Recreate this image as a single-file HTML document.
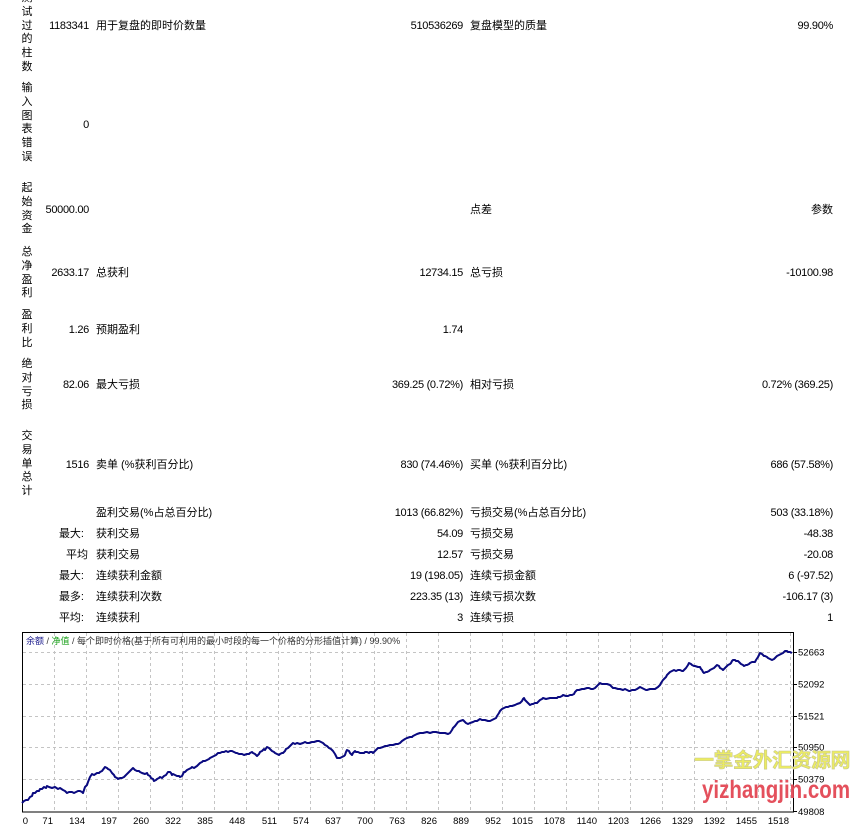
<!DOCTYPE html>
<html><head><meta charset="utf-8">
<style>
html,body{margin:0;padding:0;background:#fff;}
body{width:866px;height:834px;position:relative;overflow:hidden;font-family:"Liberation Sans","Noto Sans CJK SC",sans-serif;font-size:11px;color:#000;}
.t{position:absolute;line-height:14px;white-space:nowrap;}
.v{position:absolute;left:20px;width:14px;text-align:center;font-size:11px;line-height:13.8px;}
.a{left:0;width:89px;text-align:right;}
.b{left:96px;}
.c{left:300px;width:163px;text-align:right;}
.d{left:470px;}
.e{left:600px;width:233px;text-align:right;}
.n{letter-spacing:-0.3px;}
</style></head><body>

<div class="v" style="top:-8px">测<br>试<br>过<br>的<br>柱<br>数</div>
<div class="v" style="top:82px">输<br>入<br>图<br>表<br>错<br>误</div>
<div class="v" style="top:182px">起<br>始<br>资<br>金</div>
<div class="v" style="top:246px">总<br>净<br>盈<br>利</div>
<div class="v" style="top:309px">盈<br>利<br>比</div>
<div class="v" style="top:358px">绝<br>对<br>亏<br>损</div>
<div class="v" style="top:430px">交<br>易<br>单<br>总<br>计</div>

<div class="t a n" style="top:19px">1183341</div>
<div class="t b" style="top:19px">用于复盘的即时价数量</div>
<div class="t c n" style="top:19px">510536269</div>
<div class="t d" style="top:19px">复盘模型的质量</div>
<div class="t e n" style="top:19px">99.90%</div>

<div class="t a n" style="top:118px">0</div>

<div class="t a n" style="top:203px">50000.00</div>
<div class="t d" style="top:203px">点差</div>
<div class="t e" style="top:203px">参数</div>

<div class="t a n" style="top:266px">2633.17</div>
<div class="t b" style="top:266px">总获利</div>
<div class="t c n" style="top:266px">12734.15</div>
<div class="t d" style="top:266px">总亏损</div>
<div class="t e n" style="top:266px">-10100.98</div>

<div class="t a n" style="top:323px">1.26</div>
<div class="t b" style="top:323px">预期盈利</div>
<div class="t c n" style="top:323px">1.74</div>

<div class="t a n" style="top:378px">82.06</div>
<div class="t b" style="top:378px">最大亏损</div>
<div class="t c n" style="top:378px">369.25 (0.72%)</div>
<div class="t d" style="top:378px">相对亏损</div>
<div class="t e n" style="top:378px">0.72% (369.25)</div>

<div class="t a n" style="top:458px">1516</div>
<div class="t b" style="top:458px">卖单 (%获利百分比)</div>
<div class="t c n" style="top:458px">830 (74.46%)</div>
<div class="t d" style="top:458px">买单 (%获利百分比)</div>
<div class="t e n" style="top:458px">686 (57.58%)</div>

<div class="t b" style="top:506px">盈利交易(%占总百分比)</div>
<div class="t c n" style="top:506px">1013 (66.82%)</div>
<div class="t d" style="top:506px">亏损交易(%占总百分比)</div>
<div class="t e n" style="top:506px">503 (33.18%)</div>

<div class="t a" style="top:527px;width:84px">最大:</div>
<div class="t b" style="top:527px">获利交易</div>
<div class="t c n" style="top:527px">54.09</div>
<div class="t d" style="top:527px">亏损交易</div>
<div class="t e n" style="top:527px">-48.38</div>

<div class="t a" style="top:548px;width:88px">平均</div>
<div class="t b" style="top:548px">获利交易</div>
<div class="t c n" style="top:548px">12.57</div>
<div class="t d" style="top:548px">亏损交易</div>
<div class="t e n" style="top:548px">-20.08</div>

<div class="t a" style="top:569px;width:84px">最大:</div>
<div class="t b" style="top:569px">连续获利金额</div>
<div class="t c n" style="top:569px">19 (198.05)</div>
<div class="t d" style="top:569px">连续亏损金额</div>
<div class="t e n" style="top:569px">6 (-97.52)</div>

<div class="t a" style="top:590px;width:84px">最多:</div>
<div class="t b" style="top:590px">连续获利次数</div>
<div class="t c n" style="top:590px">223.35 (13)</div>
<div class="t d" style="top:590px">连续亏损次数</div>
<div class="t e n" style="top:590px">-106.17 (3)</div>

<div class="t a" style="top:611px;width:84px">平均:</div>
<div class="t b" style="top:611px">连续获利</div>
<div class="t c n" style="top:611px">3</div>
<div class="t d" style="top:611px">连续亏损</div>
<div class="t e n" style="top:611px">1</div>

<svg style="position:absolute;left:0;top:0" width="866" height="834" xmlns="http://www.w3.org/2000/svg">
<g stroke="#c4c4c4" stroke-width="1" stroke-dasharray="3,3" fill="none">
<path d="M54.5 633V812M86.5 633V812M118.5 633V812M150.5 633V812M182.5 633V812M214.5 633V812M246.5 633V812M278.5 633V812M310.5 633V812M342.5 633V812M374.5 633V812M406.5 633V812M438.5 633V812M470.5 633V812M502.5 633V812M534.5 633V812M566.5 633V812M598.5 633V812M630.5 633V812M662.5 633V812M694.5 633V812M726.5 633V812M758.5 633V812M790.5 633V812"/>
<path d="M23 652.5H793M23 684.5H793M23 716.5H793M23 747.5H793M23 779.5H793"/>
</g>
<rect x="22.5" y="632.5" width="771" height="179.5" fill="none" stroke="#000" stroke-width="1"/>
<g stroke="#000" stroke-width="1">
<path d="M794 652.5H797M794 684.5H797M794 716.5H797M794 747.5H797M794 779.5H797M794 811.5H797"/>
</g>
<text x="26" y="644" font-family="Liberation Sans, Noto Sans CJK SC, sans-serif" font-size="9" fill="#333"><tspan fill="#1a1a8c">余额</tspan> / <tspan fill="#1aa01a">净值</tspan> / 每个即时价格(基于所有可利用的最小时段的每一个价格的分形插值计算) / 99.90%</text>

<g font-family="Liberation Sans, sans-serif" font-size="9.5" fill="#000">
<text x="798" y="655.5">52663</text>
<text x="798" y="687.5">52092</text>
<text x="798" y="719.5">51521</text>
<text x="798" y="750.5">50950</text>
<text x="798" y="782.5">50379</text>
<text x="798" y="815">49808</text>
</g>
<g font-family="Liberation Sans, sans-serif" font-size="9.5" fill="#000" text-anchor="end">
<text x="28" y="824">0</text>
<text x="53" y="824">71</text>
<text x="85" y="824">134</text>
<text x="117" y="824">197</text>
<text x="149" y="824">260</text>
<text x="181" y="824">322</text>
<text x="213" y="824">385</text>
<text x="245" y="824">448</text>
<text x="277" y="824">511</text>
<text x="309" y="824">574</text>
<text x="341" y="824">637</text>
<text x="373" y="824">700</text>
<text x="405" y="824">763</text>
<text x="437" y="824">826</text>
<text x="469" y="824">889</text>
<text x="501" y="824">952</text>
<text x="533" y="824">1015</text>
<text x="565" y="824">1078</text>
<text x="597" y="824">1140</text>
<text x="629" y="824">1203</text>
<text x="661" y="824">1266</text>
<text x="693" y="824">1329</text>
<text x="725" y="824">1392</text>
<text x="757" y="824">1455</text>
<text x="789" y="824">1518</text>
</g>

<polyline fill="none" stroke="#0a0a80" stroke-width="2" stroke-linejoin="round" points="
22,803 24,801 26,800 28,800 30,797 32,796 33,793 35,793 37,791 39,791 40,789 42,789 44,787 46,788 47,786 49,787 52,788 55,787 58,789 60,788 63,790 65,791 67,793 69,792 72,792 74,793 76,792 78,791 80,791 82,792 83,793 84,790 85,787 87,785 88,782 90,777 92,774 94,775 97,773 99,773 100,772 102,771 105,767 107,768 108,769 110,770 112,773 114,775 115,777 117,778 118,779 120,778 122,778 124,777 125,776 128,773 130,771 132,769 133,768 135,770 137,771 139,771 140,772 142,773 145,774 147,773 148,775 150,776 151,778 153,779 154,781 156,780 157,779 159,778 160,777 162,778 164,776 166,775 168,772 170,772 171,773 172,775 173,774 175,775 177,776 179,776 180,777 182,776 183,774 184,772 185,772 187,770 189,769 191,768 192,767 194,768 197,766 199,764 200,763 202,762 203,761 205,761 207,760 209,759 210,758 212,757 214,756 216,755 218,753 220,753 222,752 224,752 226,751 228,752 230,751 232,751 234,752 236,753 237,753 239,754 242,754 244,755 247,754 249,754 250,753 252,752 253,753 255,754 257,756 259,754 260,752 262,751 264,749 265,750 267,747 269,748 270,749 271,750 272,751 274,752 275,753 277,754 279,755 280,754 282,753 283,753 285,751 286,749 288,748 290,746 291,745 293,743 295,744 297,743 300,744 303,743 305,742 307,743 309,743 312,742 314,742 317,741 319,741 321,742 323,743 325,745 327,746 329,748 331,749 333,751 335,754 336,756 337,758 338,758 340,758 342,757 344,756 345,755 346,752 347,750 349,751 350,753 351,754 352,755 353,753 355,751 356,752 358,752 360,753 362,753 364,753 365,752 367,752 369,753 370,752 372,752 373,753 375,751 376,750 377,749 378,748 380,748 383,747 385,746 387,746 390,745 393,745 396,744 398,744 400,743 402,741 405,739 407,738 410,737 412,737 413,736 415,735 417,734 420,733 423,733 427,732 430,733 433,732 436,732 440,733 442,733 445,733 448,734 450,733 452,730 453,728 455,726 458,722 460,721 463,720 465,722 466,723 468,724 470,723 473,722 475,721 477,721 480,719 482,720 485,720 488,721 490,721 492,720 494,719 496,718 497,716 499,713 500,711 502,709 504,708 506,707 508,707 510,706 512,706 515,705 517,704 520,703 522,701 523,699 524,698 525,700 527,702 529,704 530,705 532,704 533,704 535,703 537,703 538,702 540,700 542,699 543,698 546,699 550,698 553,698 557,698 558,697 560,697 562,696 563,695 566,696 568,696 570,695 572,695 574,694 575,692 577,690 579,690 582,689 584,689 587,688 589,688 591,689 593,689 595,688 597,686 599,684 600,683 602,684 605,684 607,684 610,685 611,686 613,688 615,688 618,689 620,689 623,690 625,689 627,690 629,691 630,691 632,690 635,690 637,689 640,687 642,688 644,689 646,690 647,690 650,689 652,689 655,689 658,687 659,686 660,685 661,683 663,680 664,679 666,677 667,675 668,674 670,672 672,671 674,670 676,671 678,670 680,670 682,671 683,671 685,669 686,668 688,665 689,663 691,664 692,665 694,666 695,666 698,667 700,667 701,669 702,670 703,672 704,673 706,672 707,672 709,671 710,670 712,669 714,668 716,666 717,665 719,666 720,668 722,669 723,670 725,668 726,667 727,666 728,665 730,664 731,663 732,661 733,660 735,660 736,661 738,661 740,663 741,664 743,665 744,666 746,665 747,665 749,664 750,663 752,662 753,662 755,662 756,660 758,657 759,655 760,653 762,654 763,655 764,656 765,656 767,657 768,658 770,659 772,660 774,659 775,658 776,657 777,656 779,655 781,654 783,653 785,651 787,651 788,652 790,652 792,653"/>

<text x="694" y="767" font-family="Noto Sans CJK SC, WenQuanYi Zen Hei, sans-serif" font-size="20" font-weight="bold" fill="#ecec62" stroke="#c8c890" stroke-width="0.6" letter-spacing="-0.5">一掌金外汇资源网</text>
<text x="702" y="798" font-family="Liberation Sans, sans-serif" font-size="25" font-weight="bold" fill="#e4505c" transform="translate(702 0) scale(0.82 1) translate(-702 0)">yizhangjin.com</text>
</svg>
</body></html>
